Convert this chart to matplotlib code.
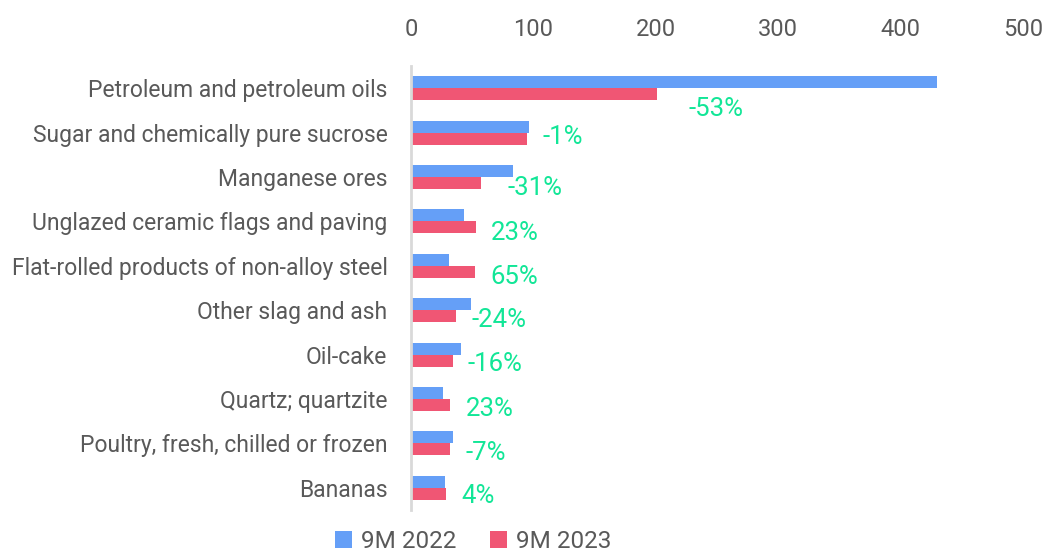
import numpy as np
import matplotlib
matplotlib.use("Agg")
import matplotlib.pyplot as plt
from matplotlib.transforms import offset_copy

categories = [
    "Petroleum and petroleum oils",
    "Sugar and chemically pure sucrose",
    "Manganese ores",
    "Unglazed ceramic flags and paving",
    "Flat-rolled products of non-alloy steel",
    "Other slag and ash",
    "Oil-cake",
    "Quartz; quartzite",
    "Poultry, fresh, chilled or frozen",
    "Bananas",
]
v2022 = [430, 96, 83, 43, 31, 49, 41, 26, 34, 28]
v2023 = [201, 95, 57, 53, 52, 37, 34, 32, 32, 29]
changes = ["-53%", "-1%", "-31%", "23%", "65%", "-24%", "-16%", "23%", "-7%", "4%"]
series = ["9M 2022", "9M 2023"]
xticks = [0, 100, 200, 300, 400, 500]

# label nudges (points) for the change labels
nudge_x = [12, 0, 8, 0, 0, 0, 0, 0, 0, 0]
nudge_y = [-15, -3, -8, -8, -8, -7, -7, -7, -7, -6]

BLUE = "#659ff7"
RED = "#f05674"
GREEN = "#12e697"
GREY = "#595959"

plt.rcParams["font.family"] = ["Roboto", "DejaVu Sans"]

fig = plt.figure(figsize=(10.48, 5.51), dpi=100)
ax = fig.add_axes([411 / 1048, 1 - 510 / 551, 612 / 1048, 444 / 551])

y = np.arange(len(categories))
h = 0.27
ax.barh(y - h / 2, v2022, height=h, color=BLUE, label=series[0])
ax.barh(y + h / 2, v2023, height=h, color=RED, label=series[1])

ax.set_xlim(0, 500)
ax.set_ylim(len(categories) - 0.5, -0.5)
ax.set_xticks(xticks)
ax.xaxis.tick_top()
ax.tick_params(axis="x", length=0, pad=18, labelsize=17, labelcolor=GREY)
ax.set_yticks(y)
ax.set_yticklabels(categories)
ax.tick_params(axis="y", length=0, pad=17, labelsize=16.5, labelcolor=GREY)

for s in ["top", "right", "bottom"]:
    ax.spines[s].set_visible(False)
ax.spines["left"].set_color("#d9d9d9")
ax.spines["left"].set_linewidth(2)

for i, (val, txt) in enumerate(zip(v2023, changes)):
    tr = offset_copy(ax.transData, fig=fig, x=11 + nudge_x[i], y=nudge_y[i], units="points")
    ax.text(val, i, txt, transform=tr, color=GREEN, fontsize=18.5,
            va="center", ha="left")

fig.legend(loc="center", bbox_to_anchor=(473 / 1048, 0.018), ncol=2,
           frameon=False, fontsize=17.5, handlelength=0.7, handleheight=0.7,
           handletextpad=0.35, columnspacing=1.4, labelcolor=GREY)

fig.savefig("out.png", dpi=100)
